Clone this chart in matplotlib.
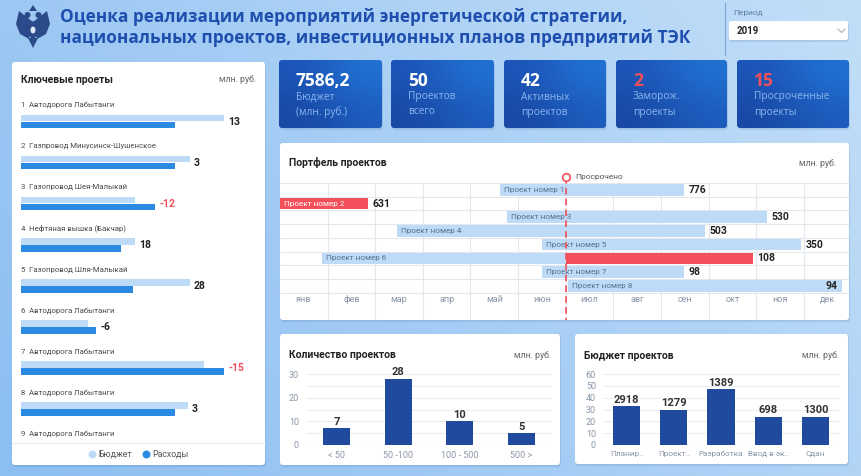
import numpy as np
import matplotlib
matplotlib.use('Agg')
import matplotlib.pyplot as plt
from matplotlib.patches import FancyBboxPatch, Circle, Polygon, Ellipse

plt.rcParams['font.family'] = ['Roboto', 'DejaVu Sans']

# --- данные ---
title_lines = ['Оценка реализации мероприятий энергетической стратегии,',
               'национальных проектов, инвестиционных планов предприятий ТЭК']
period = '2019'

kpi_values = ['7586,2', '50', '42', '2', '15']
kpi_labels = [['Бюджет', '(млн. руб.)'], ['Проектов', 'всего'], ['Активных', 'проектов'],
              ['Заморож.', 'проекты'], ['Просроченные', 'проекты']]
kpi_alert = [False, False, False, True, True]

key_names = ['Автодорога Лабытанги', 'Газпровод Минусинск-Шушенское', 'Газопровод Шея-Малыкай',
             'Нефтяная вышка (Бакчар)', 'Газопровод Шля-Малыкай', 'Автодорога Лабытанги',
             'Автодорога Лабытанги', 'Автодорога Лабытанги', 'Автодорога Лабытанги']
key_budget = [100, 83, 56, 56, 83, 33, 90, 82]
key_spent = [76, 76, 66, 49, 55, 37, 100, 76]
key_delta = [13, 3, -12, 18, 28, -6, -15, 3]
key_alert = [False, False, True, False, False, False, True, False]

months = ['янв', 'фев', 'мар', 'апр', 'май', 'июн', 'июл', 'авг', 'сен', 'окт', 'ноя', 'дек']
gantt_names = ['Проект номер %d' % i for i in range(1, 9)]
gantt_start = [4.62, 0.0, 4.77, 2.46, 5.50, 0.88, 5.50, 6.05]
gantt_end = [8.49, 1.85, 10.23, 8.93, 10.95, 9.94, 8.49, 11.81]
gantt_value = [776, 631, 530, 503, 350, 108, 98, 94]
gantt_red_from = [None, 0.0, None, None, None, 6.0, None, None]
deadline = 6.0

count_labels = ['< 50', '50 -100', '100 - 500', '500 >']
count_values = [7, 28, 10, 5]

budget_labels = ['Планир..', 'Проект..', 'Разработка', 'Ввод в эк..', 'Сдан']
budget_heights = [33, 30, 47, 24, 24]
budget_values = [2918, 1279, 1389, 698, 1300]

# --- цвета ---
LIGHT = '#bddbf7'
MID = '#2b8be3'
DARK = '#1f4a9e'
RED = '#f2505a'
GRAY = '#8a96a8'
TXT = '#222222'

W, H = 862, 476
fig = plt.figure(figsize=(8.62, 4.76), dpi=100)
bg = fig.add_axes([0, 0, 1, 1])
bg.axis('off')


def px_axes(x0, y0, x1, y1):
    a = fig.add_axes([x0 / W, 1 - y1 / H, (x1 - x0) / W, (y1 - y0) / H])
    a.patch.set_alpha(0)
    return a


# фон - градиент
gx, gy = np.meshgrid(np.linspace(0, 1, 200), np.linspace(0, 1, 120))
t = np.clip(0.7 * gx + 0.3 * (1 - gy), 0, 1)[..., None]
c0 = np.array([0x8c, 0xbe, 0xf1]) / 255
c1 = np.array([0xc2, 0xde, 0xf8]) / 255
bg.imshow(c0 + t * (c1 - c0), extent=[0, W, H, 0], aspect='auto', zorder=0)


def card(x0, y0, x1, y1, fc='white', r=3):
    bg.add_patch(FancyBboxPatch((x0 + 1, y0 + 2), x1 - x0, y1 - y0,
                                boxstyle='round,pad=0,rounding_size=%g' % r,
                                fc='#2f5f9a', ec='none', alpha=0.15, zorder=1))
    p = FancyBboxPatch((x0, y0), x1 - x0, y1 - y0, boxstyle='round,pad=0,rounding_size=%g' % r,
                       fc=fc, ec='none', zorder=2)
    bg.add_patch(p)
    return p


# герб (упрощённо)
ec = '#2b4a8a'
bg.add_patch(Polygon([(33, 22), (19, 11), (16, 24), (20, 34), (29, 39)], fc=ec, ec='none', zorder=3))
bg.add_patch(Polygon([(33, 22), (47, 11), (50, 24), (46, 34), (37, 39)], fc=ec, ec='none', zorder=3))
bg.add_patch(Ellipse((33, 30), 10, 17, fc=ec, ec='none', zorder=3))
bg.add_patch(Circle((27.5, 15), 3, fc=ec, ec='none', zorder=3))
bg.add_patch(Circle((38.5, 15), 3, fc=ec, ec='none', zorder=3))
bg.add_patch(Polygon([(29, 11), (33, 5), (37, 11)], fc=ec, ec='none', zorder=3))
bg.add_patch(Polygon([(28, 38), (33, 48), (38, 38)], fc=ec, ec='none', zorder=3))
bg.add_patch(Ellipse((33, 30), 5, 7, fc='#d8e6f6', ec='none', zorder=4))

# заголовок
for k, line in enumerate(title_lines):
    bg.text(60, 17 + 21 * k, line, fontsize=12.4, fontweight='bold', color='#1f4fae',
            va='center', family=['Open Sans', 'DejaVu Sans'], zorder=3)

bg.plot([725, 725], [3, 55], color='#7ba7d8', lw=0.8, zorder=3)
bg.text(733, 13, 'Период', fontsize=6, color='#5b7ea8', va='center', zorder=3)
card(729, 21, 848, 40, r=2)
bg.text(737, 31, period, fontsize=7, fontweight='bold', color=TXT, va='center', zorder=3)
bg.plot([838, 841.5, 845], [29, 32.5, 29], color='#aab4c0', lw=0.8, zorder=3)

# KPI карточки
kpi_x = [(279, 382), (391, 494), (504, 606), (616, 727), (737, 849)]
for (x0, x1), val, lab, alert in zip(kpi_x, kpi_values, kpi_labels, kpi_alert):
    p = card(x0, 60, x1, 128, fc='#1d52b2', r=4)
    grad = np.array([[[0.11, 0.33, 0.72], [0.13, 0.45, 0.83]],
                     [[0.10, 0.28, 0.64], [0.11, 0.36, 0.74]]])
    im = bg.imshow(grad, extent=[x0, x1, 128, 60], aspect='auto', interpolation='bicubic', zorder=3)
    im.set_clip_path(p)
    bg.text(x0 + 17, 81, val, fontsize=12.5, fontweight='bold', color=RED if alert else 'white',
            va='center', family=['Open Sans', 'DejaVu Sans'], zorder=4)
    for j, s in enumerate(lab):
        bg.text(x0 + 17, 97 + 15 * j, s, fontsize=7.3, color='#8ab6ee', va='center',
                family=['Open Sans', 'DejaVu Sans'], zorder=4)

# белые панели
card(12, 62, 265, 465)
card(280, 143, 849, 320)
card(280, 334, 560, 465)
card(575, 334, 848, 464)


def panel_title(x, y, title, xr):
    bg.text(x, y, title, fontsize=7.5, fontweight='bold', color=TXT, va='center', zorder=3)
    bg.text(xr, y, 'млн. руб.', fontsize=6.3, color='#666666', va='center', ha='right', zorder=3)


panel_title(21, 80, 'Ключевые проеты', 256)
panel_title(289, 163, 'Портфель проектов', 836)
panel_title(289, 355, 'Количество проектов', 551)
panel_title(584, 356, 'Бюджет проектов', 839)

# --- ключевые проекты ---
ax1 = px_axes(21, 95, 258, 442)
ax1.axis('off')
ax1.set_xlim(0, 116.7)
ax1.set_ylim(7.80, -0.645)
rows = np.arange(len(key_budget))
ax1.barh(rows - 0.085, key_budget, height=0.158, color=LIGHT)
ax1.barh(rows + 0.085, key_spent, height=0.158, color=MID)
for i, name in enumerate(key_names):
    ax1.text(0, i - 0.40, '%d  %s' % (i + 1, name), fontsize=5.6, color='#4a4a4a', va='center')
for i, (b, s, d, a) in enumerate(zip(key_budget, key_spent, key_delta, key_alert)):
    ax1.text(max(b, s) + 2, i, str(d), fontsize=7.5, fontweight='bold',
             color=RED if a else TXT, va='center')

bg.plot([12, 265], [443, 443], color='#e6e9ee', lw=0.8, zorder=3)
bg.scatter([92], [454], s=22, color=LIGHT, zorder=3)
bg.scatter([146], [454], s=22, color=MID, zorder=3)
bg.text(98, 454, 'Бюджет', fontsize=6.3, color='#555555', va='center', zorder=3)
bg.text(152, 454, 'Расходы', fontsize=6.3, color='#555555', va='center', zorder=3)

# --- портфель проектов ---
ax2 = px_axes(280, 183, 849, 320)
ax2.axis('off')
ax2.set_xlim(0, 11.95)
ax2.set_ylim(9.5, -0.5)
n = len(gantt_names)
ax2.hlines(np.arange(n + 1) - 0.5, 0, 11.95, color='#e3e8ee', lw=0.8, zorder=1)
ax2.vlines(np.arange(1, 12), -0.5, 9.5, color='#e3e8ee', lw=0.8, zorder=1)
for i in range(n):
    st, en, rf = gantt_start[i], gantt_end[i], gantt_red_from[i]
    ax2.barh(i, en - st, left=st, height=0.85, color=LIGHT, zorder=2)
    if rf is not None:
        ax2.barh(i, en - rf, left=rf, height=0.85, color=RED, zorder=3)
    ax2.text(st + 0.09, i, gantt_names[i], fontsize=5.9, va='center', zorder=4,
             color='white' if rf == st else '#5b6f8c')
    if en > 11.3:
        ax2.text(en - 0.1, i, str(gantt_value[i]), fontsize=7.5, fontweight='bold',
                 color=TXT, va='center', ha='right', zorder=4)
    else:
        ax2.text(en + 0.09, i, str(gantt_value[i]), fontsize=7.5, fontweight='bold',
                 color=TXT, va='center', zorder=4)
for m, name in enumerate(months):
    ax2.text(m + 0.5, n, name, fontsize=6.5, color=GRAY, ha='center', va='center')
ax2.plot([deadline, deadline], [-0.95, 9.5], color=RED, ls=(0, (4, 2.5)), lw=1.2,
         clip_on=False, zorder=5)
ax2.plot(deadline, -0.95, 'o', mfc='white', mec=RED, ms=5.5, mew=1.2, clip_on=False, zorder=6)
ax2.text(deadline + 0.2, -0.95, 'Просрочено', fontsize=6, color='#555555', va='center')


def column_chart(ax, labels, heights, texts, width, ymax, step, minor, xsize):
    x = np.arange(len(labels))
    ax.bar(x, heights, width=width, color=DARK, zorder=2)
    ax.set_xlim(-0.5, len(labels) - 0.5)
    ax.set_ylim(0, ymax)
    ax.set_yticks(np.arange(0, ymax + 1, step))
    if minor:
        ax.set_yticks(np.arange(minor, ymax, step), minor=True)
    ax.grid(axis='y', which='both', color='#e9edf2', lw=0.8, zorder=0)
    ax.set_xticks(x, labels)
    for sp in ax.spines.values():
        sp.set_visible(False)
    ax.tick_params(which='both', length=0, labelsize=6.5, labelcolor=GRAY)
    ax.tick_params(axis='y', pad=5)
    ax.tick_params(axis='x', pad=4, labelsize=xsize)
    for xi, h, s in zip(x, heights, texts):
        ax.annotate(str(s), (xi, h), xytext=(0, 1), textcoords='offset points',
                    ha='center', va='bottom', fontsize=8, fontweight='bold', color='#333333')


ax3 = px_axes(306, 374, 552, 445)
column_chart(ax3, count_labels, count_values, count_values, 0.44, 30, 10, 5, 6.5)

ax4 = px_axes(603, 374, 839, 445)
column_chart(ax4, budget_labels, budget_heights, budget_values, 0.58, 60, 10, None, 5.9)

bg.set_xlim(0, W)
bg.set_ylim(H, 0)
fig.savefig('out.png', dpi=100)
